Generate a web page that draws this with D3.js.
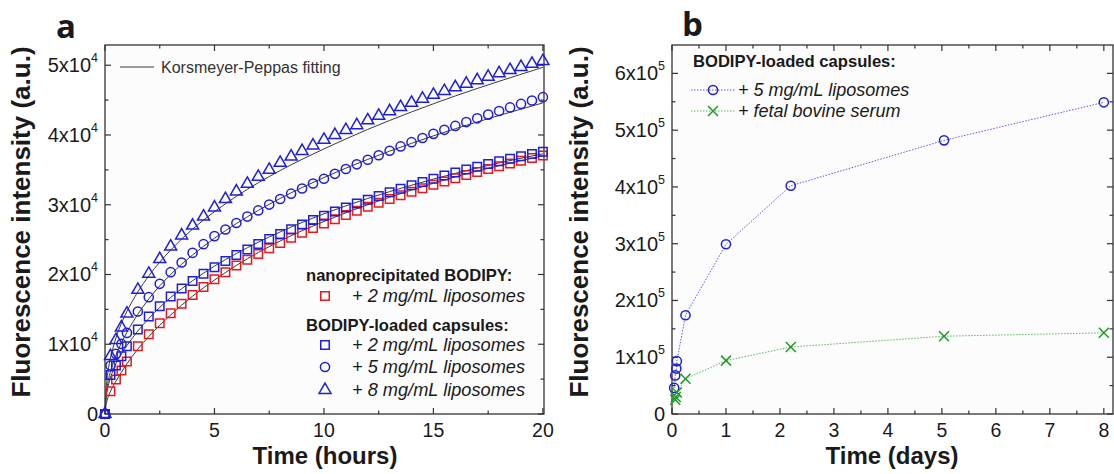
<!DOCTYPE html>
<html>
<head>
<meta charset="utf-8">
<script src="https://cdn.jsdelivr.net/npm/d3@7"></script>
<style>
    body { margin: 0; background: #ffffff; }
    text { font-family: "Liberation Sans", Arial, sans-serif; fill: #1a1a1a; }
</style>
</head>
<body>
<svg id="chart" width="1114" height="474"></svg>
<script>
// ---- panel a : release in hours ----
var hours = [0, 0.25, 0.5, 0.75, 1, 1.5, 2, 2.5, 3, 3.5, 4, 4.5, 5, 5.5, 6, 6.5, 7, 7.5, 8, 8.5, 9, 9.5,
    10, 10.5, 11, 11.5, 12, 12.5, 13, 13.5, 14, 14.5, 15, 15.5, 16, 16.5, 17, 17.5, 18, 18.5, 19, 19.5, 20];
var nanoLipo2 = [0, 3250, 4930, 6220, 7510, 9710, 11440, 13000, 14450, 15800, 17050, 18220, 19320, 20330, 21280,
    22120, 22950, 23750, 24520, 25260, 25970, 26650, 27300, 27930, 28540, 29130, 29710, 30270, 30820, 31350,
    31870, 32370, 32860, 33340, 33800, 34250, 34690, 35110, 35520, 35920, 36310, 36690, 37060];
var capsLipo2 = [0, 5600, 6940, 8280, 9710, 12100, 13970, 15450, 16840, 17990, 19080, 20100, 21040, 21930, 22780,
    23590, 24360, 25100, 25810, 26500, 27170, 27810, 28430, 29030, 29610, 30170, 30720, 31260, 31780, 32290,
    32790, 33270, 33740, 34190, 34630, 35050, 35460, 35850, 36230, 36600, 36950, 37290, 37600];
var capsLipo5 = [0, 6940, 8610, 10050, 11630, 14690, 16750, 18660, 20330, 21720, 23110, 24350, 25500, 26450, 27380,
    28300, 29180, 30020, 30820, 31590, 32330, 33040, 33730, 34430, 35120, 35790, 36450, 37100, 37740, 38360,
    38970, 39570, 40160, 40740, 41300, 41850, 42390, 42920, 43440, 43950, 44450, 44940, 45420];
var capsLipo8 = [0, 8300, 10600, 12400, 14400, 17800, 20100, 22200, 24000, 25600, 27000, 28300, 29600, 30800, 31900,
    33000, 34000, 35000, 36000, 36900, 37700, 38500, 39300, 40000, 40700, 41400, 42100, 42750, 43400, 44000,
    44600, 45200, 45750, 46300, 46850, 47350, 47850, 48350, 48850, 49300, 49750, 50200, 50600];

// Korsmeyer-Peppas fitted curves
var fitHours = [0, 0.05, 0.1, 0.2, 0.35, 0.5, 0.75, 1, 1.5, 2, 3, 4, 5, 6, 8, 10, 12, 14, 16, 18, 20];
var fitNano2 = [0, 1300, 2000, 2900, 3900, 4700, 6000, 7200, 9300, 11100, 14200, 16900, 19200, 21300, 24800, 27600, 30000, 32100, 34000, 35600, 37000];
var fitCaps2 = [0, 2300, 3300, 4700, 6100, 7200, 8600, 9800, 11900, 13700, 16700, 19100, 21200, 23000, 26100, 28700, 30900, 32800, 34500, 36000, 37300];
var fitCaps5 = [0, 2700, 3900, 5500, 7100, 8400, 10200, 11700, 14300, 16500, 20000, 22800, 25200, 27300, 30900, 33900, 36500, 38800, 40900, 42800, 44600];
var fitCaps8 = [0, 3500, 5200, 7300, 9300, 10900, 13000, 14700, 17500, 19800, 23500, 26500, 29000, 31200, 34900, 38000, 40800, 43300, 45600, 47700, 49700];

var aMajorX = [0, 5, 10, 15, 20];
var aMinorX = [2.5, 7.5, 12.5, 17.5];
var aMajorY = [0, 10000, 20000, 30000, 40000, 50000];
var aMinorY = [5000, 15000, 25000, 35000, 45000];
var aYMantissa = ["0", "1", "2", "3", "4", "5"];

// ---- panel b : release in days ----
var lipoDays = [0.04, 0.06, 0.08, 0.09, 0.25, 1, 2.2, 5.04, 8];
var lipo5 = [46000, 68000, 80000, 93000, 174000, 299000, 402000, 482000, 549000];
var serumDays = [0.06, 0.07, 0.09, 0.25, 1, 2.2, 5.04, 8];
var serum = [25000, 30000, 38000, 62000, 94000, 118000, 137000, 143000];

var bMajorX = [0, 1, 2, 3, 4, 5, 6, 7, 8];
var bMinorX = [0.5, 1.5, 2.5, 3.5, 4.5, 5.5, 6.5, 7.5];
var bMajorY = [0, 100000, 200000, 300000, 400000, 500000, 600000];
var bMinorY = [50000, 150000, 250000, 350000, 450000, 550000];
var bYMantissa = ["0", "1", "2", "3", "4", "5", "6"];

var RED = "#e3191c", BLUE = "#1f1fd6", GREEN = "#1f9a26";

var svg = d3.select("#chart");

// frame with inward ticks on all four sides, like the Origin plots
function drawFrame(x, y, majX, minX, majY, minY, yMant, yExp) {
    var g = svg.append("g");
    var x0 = x.range()[0], x1 = x.range()[1], y0 = y.range()[0], y1 = y.range()[1];

    g.append("rect")
        .attr("x", x0).attr("y", y1)
        .attr("width", x1 - x0).attr("height", y0 - y1)
        .style("fill", "#fcfcfc")
        .style("stroke", "#333")
        .style("stroke-width", 1.3);

    function xTicks(vals, len) {
        vals.forEach(function (v) {
            g.append("line").attr("x1", x(v)).attr("x2", x(v)).attr("y1", y0).attr("y2", y0 - len);
            g.append("line").attr("x1", x(v)).attr("x2", x(v)).attr("y1", y1).attr("y2", y1 + len);
        });
    }
    function yTicks(vals, len) {
        vals.forEach(function (v) {
            g.append("line").attr("x1", x0).attr("x2", x0 + len).attr("y1", y(v)).attr("y2", y(v));
            g.append("line").attr("x1", x1).attr("x2", x1 - len).attr("y1", y(v)).attr("y2", y(v));
        });
    }
    xTicks(majX, 6); xTicks(minX, 3.5);
    yTicks(majY, 6); yTicks(minY, 3.5);
    g.selectAll("line").style("stroke", "#333").style("stroke-width", 1.2);

    g.selectAll(".xlab").data(majX).enter().append("text")
        .attr("x", function (d) { return x(d); })
        .attr("y", 437)
        .attr("text-anchor", "middle")
        .style("font-size", "19.5px")
        .text(function (d) { return d; });

    majY.forEach(function (v, i) {
        var t = g.append("text")
            .attr("x", x0 - 7)
            .attr("y", y(v) + 7)
            .attr("text-anchor", "end")
            .style("font-size", "20px");
        if (v === 0) {
            t.text("0");
        } else {
            t.append("tspan").text(yMant[i] + "x10");
            t.append("tspan").attr("dy", -10).style("font-size", "12.5px").text(yExp);
        }
    });
    return g;
}

function drawMarkers(g, x, y, xs, ys, shape, color) {
    var sym = {
        square: d3.symbol().type(d3.symbolSquare).size(72)(),
        circle: d3.symbol().type(d3.symbolCircle).size(66)(),
        triangle: d3.symbol().type(d3.symbolTriangle).size(62)(),
        cross: "M-5,-5L5,5M-5,5L5,-5"
    }[shape];
    g.selectAll(null).data(xs).enter().append("path")
        .attr("d", sym)
        .attr("transform", function (d, i) { return "translate(" + x(d) + "," + y(ys[i]) + ")"; })
        .style("fill", "none")
        .style("stroke", color)
        .style("stroke-width", 1.5);
}

// ---------------- panel a ----------------
var xa = d3.scaleLinear().domain([0, 20.05]).range([105, 544]);
var ya = d3.scaleLinear().domain([0, 52900]).range([414, 45]);
var ga = drawFrame(xa, ya, aMajorX, aMinorX, aMajorY, aMinorY, aYMantissa, "4");

var fitLine = d3.line()
    .x(function (d) { return xa(d[0]); })
    .y(function (d) { return ya(d[1]); })
    .curve(d3.curveMonotoneX);

[fitNano2, fitCaps2, fitCaps5, fitCaps8].forEach(function (f) {
    ga.append("path")
        .attr("d", fitLine(fitHours.map(function (h, i) { return [h, f[i]]; })))
        .style("fill", "none")
        .style("stroke", "#3a3a3a")
        .style("stroke-width", 1);
});

drawMarkers(ga, xa, ya, hours, nanoLipo2, "square", RED);
drawMarkers(ga, xa, ya, hours, capsLipo2, "square", BLUE);
drawMarkers(ga, xa, ya, hours, capsLipo5, "circle", BLUE);
drawMarkers(ga, xa, ya, hours, capsLipo8, "triangle", BLUE);

// legend a
ga.append("line").attr("x1", 120).attr("x2", 154).attr("y1", 67).attr("y2", 67)
    .style("stroke", "#3a3a3a").style("stroke-width", 1);
ga.append("text").attr("x", 161).attr("y", 73).style("font-size", "16px").style("fill", "#333")
    .text("Korsmeyer-Peppas fitting");

var legA = [
    { y: 281, bold: "nanoprecipitated BODIPY:" },
    { y: 302, label: "+ 2 mg/mL liposomes", shape: "square", color: RED },
    { y: 331, bold: "BODIPY-loaded capsules:" },
    { y: 351, label: "+ 2 mg/mL liposomes", shape: "square", color: BLUE },
    { y: 373, label: "+ 5 mg/mL liposomes", shape: "circle", color: BLUE },
    { y: 396, label: "+ 8 mg/mL liposomes", shape: "triangle", color: BLUE }
];
var legX = d3.scaleLinear().domain([0, 1]).range([0, 1]);
legA.forEach(function (e) {
    if (e.bold) {
        ga.append("text").attr("x", 306).attr("y", e.y)
            .style("font-size", "16.6px").style("font-weight", "bold").text(e.bold);
    } else {
        drawMarkers(ga, legX, legX, [325], [e.y - 6], e.shape, e.color);
        ga.append("text").attr("x", 352).attr("y", e.y)
            .style("font-size", "18.2px").style("font-style", "italic").text(e.label);
    }
});

// ---------------- panel b ----------------
var xb = d3.scaleLinear().domain([0, 8.17]).range([672, 1113]);
var yb = d3.scaleLinear().domain([0, 650000]).range([414, 45]);
var gb = drawFrame(xb, yb, bMajorX, bMinorX, bMajorY, bMinorY, bYMantissa, "5");

var dotLine = d3.line()
    .x(function (d) { return xb(d[0]); })
    .y(function (d) { return yb(d[1]); });

gb.append("path")
    .attr("d", dotLine(lipoDays.map(function (t, i) { return [t, lipo5[i]]; })))
    .style("fill", "none").style("stroke", "#5a5ae8").style("stroke-width", 1)
    .style("stroke-dasharray", "1.5,1.5");
gb.append("path")
    .attr("d", dotLine(serumDays.map(function (t, i) { return [t, serum[i]]; })))
    .style("fill", "none").style("stroke", "#5cb85f").style("stroke-width", 1)
    .style("stroke-dasharray", "1.5,1.5");

drawMarkers(gb, xb, yb, lipoDays, lipo5, "circle", BLUE);
drawMarkers(gb, xb, yb, serumDays, serum, "cross", GREEN);

// legend b
gb.append("text").attr("x", 693).attr("y", 67)
    .style("font-size", "16.6px").style("font-weight", "bold").text("BODIPY-loaded capsules:");
[
    { y: 96, label: "+ 5 mg/mL liposomes", shape: "circle", color: BLUE, line: "#5a5ae8" },
    { y: 117, label: "+ fetal bovine serum", shape: "cross", color: GREEN, line: "#5cb85f" }
].forEach(function (e) {
    gb.append("line").attr("x1", 691).attr("x2", 736).attr("y1", e.y - 6).attr("y2", e.y - 6)
        .style("stroke", e.line).style("stroke-width", 1).style("stroke-dasharray", "1.5,1.5");
    drawMarkers(gb, legX, legX, [713], [e.y - 6], e.shape, e.color);
    gb.append("text").attr("x", 738).attr("y", e.y)
        .style("font-size", "18px").style("font-style", "italic").text(e.label);
});

// axis titles and panel letters
svg.append("text").attr("transform", "translate(30,222) rotate(-90)")
    .attr("text-anchor", "middle").style("font-size", "26px").style("font-weight", "bold")
    .text("Fluorescence intensity (a.u.)");
svg.append("text").attr("transform", "translate(588,222) rotate(-90)")
    .attr("text-anchor", "middle").style("font-size", "26px").style("font-weight", "bold")
    .text("Fluorescence intensity (a.u.)");
svg.append("text").attr("x", 325).attr("y", 464)
    .attr("text-anchor", "middle").style("font-size", "24px").style("font-weight", "bold")
    .text("Time (hours)");
svg.append("text").attr("x", 892).attr("y", 464)
    .attr("text-anchor", "middle").style("font-size", "24px").style("font-weight", "bold")
    .text("Time (days)");
svg.append("text").attr("x", 56).attr("y", 38)
    .style("font-family", "'Open Sans', sans-serif").style("font-size", "33px").style("font-weight", "bold")
    .text("a");
svg.append("text").attr("x", 682).attr("y", 36)
    .style("font-family", "'Open Sans', sans-serif").style("font-size", "33px").style("font-weight", "bold")
    .text("b");
</script>
</body>
</html>
